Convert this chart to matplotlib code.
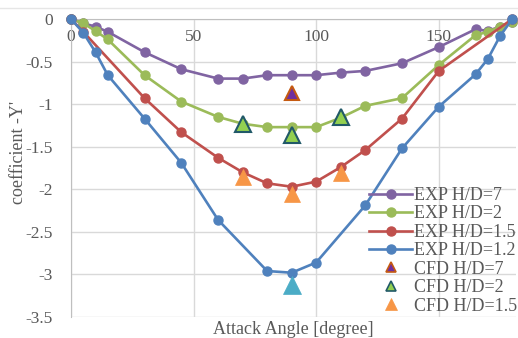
import matplotlib
matplotlib.use("Agg")
import matplotlib.pyplot as plt
from matplotlib.lines import Line2D

# ---------------- data ----------------
x_h7 = [0, 5, 10, 15, 30, 45, 60, 70, 80, 90, 100, 110, 120, 135, 150, 165, 170, 175, 180]
y_h7 = [0, -0.05, -0.09, -0.15, -0.39, -0.59, -0.70, -0.70, -0.66, -0.66, -0.66, -0.63, -0.61, -0.52, -0.33, -0.12, -0.14, -0.09, -0.03]

x_h2 = [0, 5, 10, 15, 30, 45, 60, 70, 80, 90, 100, 110, 120, 135, 150, 165, 170, 175, 180]
y_h2 = [0, -0.05, -0.14, -0.24, -0.66, -0.97, -1.15, -1.23, -1.27, -1.27, -1.27, -1.16, -1.02, -0.93, -0.54, -0.19, -0.15, -0.09, -0.03]

x_h15 = [0, 5, 30, 45, 60, 70, 80, 90, 100, 110, 120, 135, 150, 180]
y_h15 = [0, -0.15, -0.93, -1.33, -1.63, -1.80, -1.93, -1.97, -1.91, -1.74, -1.54, -1.17, -0.61, 0]

x_h12 = [0, 5, 10, 15, 30, 45, 60, 80, 90, 100, 120, 135, 150, 165, 170, 175, 180]
y_h12 = [0, -0.16, -0.39, -0.66, -1.17, -1.69, -2.36, -2.96, -2.98, -2.86, -2.19, -1.52, -1.03, -0.65, -0.47, -0.20, 0]

cfd_x_h7 = [90]
cfd_y_h7 = [-0.87]
cfd_x_h2 = [70, 90, 110]
cfd_y_h2 = [-1.23, -1.36, -1.15]
cfd_x_h15 = [70, 90, 110]
cfd_y_h15 = [-1.86, -2.06, -1.81]
cfd_x_h12 = [90]
cfd_y_h12 = [-3.12]

labels = ["EXP H/D=7", "EXP H/D=2", "EXP H/D=1.5", "EXP H/D=1.2",
          "CFD H/D=7", "CFD H/D=2", "CFD H/D=1.5"]
x_ticks = [0, 50, 100, 150]
y_ticks = [0, -0.5, -1, -1.5, -2, -2.5, -3, -3.5]
y_ticklabels = ["0", "-0.5", "-1", "-1.5", "-2", "-2.5", "-3", "-3.5"]

# ---------------- style ----------------
plt.rcParams['font.family'] = ['Liberation Serif', 'DejaVu Serif']
txt = '#595959'
c_pur, c_grn, c_red, c_blu = '#8064A2', '#9BBB59', '#C0504D', '#4F81BD'
fs = 13

fig = plt.figure(figsize=(5.18, 3.38), dpi=100)
W, H = 518, 338
l, r, t, b = 71, 516, 19, 317
ax = fig.add_axes([l / W, 1 - b / H, (r - l) / W, (b - t) / H])

lw, ms = 1.9, 6.5
exp = [(x_h7, y_h7, c_pur), (x_h2, y_h2, c_grn), (x_h15, y_h15, c_red), (x_h12, y_h12, c_blu)]
handles = []
for (xs, ys, c), lab in zip(exp, labels[:4]):
    ax.plot(xs, ys, color=c, lw=lw, marker='o', ms=ms, clip_on=False, zorder=3)
    handles.append(Line2D([], [], color=c, lw=lw, marker='o', ms=ms, label=lab))

ax.plot(cfd_x_h7, cfd_y_h7, ls='none', marker='^', ms=10, mfc='#7030A0', mec='#C55A11', mew=1.5, zorder=5)
ax.plot(cfd_x_h2, cfd_y_h2, ls='none', marker='^', ms=11, mfc='#92D050', mec='#215968', mew=1.5, zorder=5)
ax.plot(cfd_x_h15, cfd_y_h15, ls='none', marker='^', ms=12, mfc='#F79646', mec='#F79646', mew=0.5, zorder=5)
ax.plot(cfd_x_h12, cfd_y_h12, ls='none', marker='^', ms=13, mfc='#4BACC6', mec='#4BACC6', mew=0.5, zorder=5)

handles.append(Line2D([], [], ls='none', marker='^', ms=7, mfc='#7030A0', mec='#C55A11', mew=1.2, label=labels[4]))
handles.append(Line2D([], [], ls='none', marker='^', ms=7, mfc='#92D050', mec='#215968', mew=1.2, label=labels[5]))
handles.append(Line2D([], [], ls='none', marker='^', ms=8, mfc='#F79646', mec='#F79646', mew=0.5, label=labels[6]))

ax.set_xlim(0, 181.5)
ax.set_ylim(-3.5, 0)
ax.set_xticks(x_ticks)
ax.set_yticks(y_ticks)
ax.set_yticklabels(y_ticklabels)
ax.grid(True, color='#d9d9d9', lw=1.0, zorder=0)
ax.set_axisbelow(True)
for s in ['top', 'right']:
    ax.spines[s].set_visible(False)
ax.spines['bottom'].set_position(('data', 0))
ax.spines['bottom'].set_color('#bfbfbf')
ax.spines['left'].set_color('#bfbfbf')
ax.spines['bottom'].set_zorder(1)
ax.tick_params(axis='both', length=0, labelsize=12.5, labelcolor=txt)
ax.tick_params(axis='y', pad=13)
ax.tick_params(axis='x', pad=7)

ax.set_ylabel("coefficient -Y'", fontsize=fs, color=txt, va='center')
ax.yaxis.set_label_coords((19 - l) / (r - l), 1 - (152 - t) / (b - t))
fig.text((l + r) / 2 / W, 1 - 330 / H, "Attack Angle [degree]", fontsize=fs, color=txt,
         ha='center', va='center')

fig.add_artist(Line2D([0, 1], [1 - 7.5 / H, 1 - 7.5 / H], color='#e6e6e6', lw=1.0))

leg = fig.legend(handles=handles, loc='upper left', bbox_to_anchor=(369 / W, 1 - 187 / H),
                 frameon=False, fontsize=fs, handlelength=2.4, handletextpad=0.12,
                 labelspacing=0.08, borderpad=0, borderaxespad=0)
for tx in leg.get_texts():
    tx.set_color(txt)

fig.savefig('out.png', dpi=100)
